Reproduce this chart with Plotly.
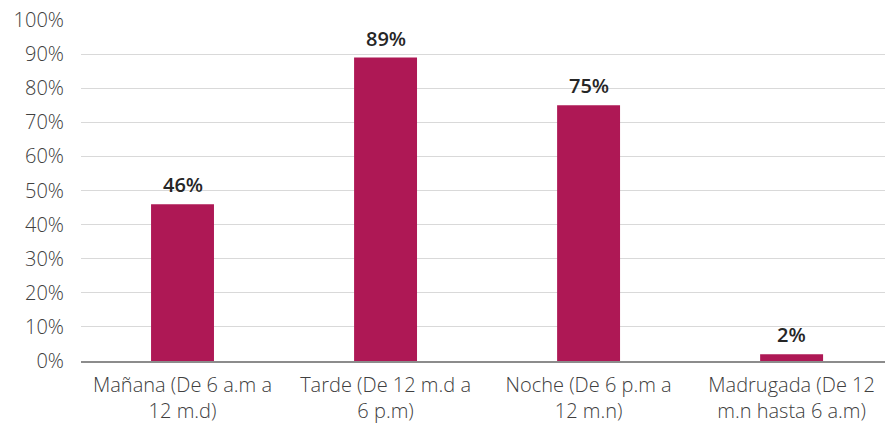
import plotly.graph_objects as go

# Franja horaria y porcentaje de respuestas
categorias = [
    "Mañana (De 6 a.m a<br>12 m.d)",
    "Tarde (De 12 m.d a<br>6 p.m)",
    "Noche (De 6 p.m a<br>12 m.n)",
    "Madrugada (De 12<br>m.n hasta 6 a.m)",
]
valores = [46, 89, 75, 2]
ticks_y = [0, 10, 20, 30, 40, 50, 60, 70, 80, 90, 100]
etiquetas_y = [f"{v}%" for v in ticks_y]

fig = go.Figure(
    go.Bar(
        x=categorias,
        y=valores,
        width=0.31,
        marker=dict(color="#AE1855", line=dict(width=0)),
        cliponaxis=False,
    )
)

# Etiquetas de valor sobre cada barra
for c, v in zip(categorias, valores):
    fig.add_annotation(
        x=c, y=v, text=f"{v}%", showarrow=False,
        yanchor="bottom", yshift=4,
        font=dict(family="Open Sans", size=20, color="#262626", weight=600),
    )

fig.update_layout(
    width=885,
    height=423,
    margin=dict(l=81, r=0, t=20, b=62),
    plot_bgcolor="white",
    paper_bgcolor="white",
    showlegend=False,
    font=dict(family="Open Sans", size=20, color="#404040"),
)
fig.update_yaxes(
    range=[0, 100],
    tickvals=ticks_y,
    ticktext=etiquetas_y,
    showgrid=True,
    gridcolor="#D9D9D9",
    gridwidth=1,
    zeroline=False,
    ticks="",
    ticklen=0,
    ticklabelstandoff=16,
    tickfont=dict(size=20, color="#404040", weight=300),
)
fig.update_xaxes(
    range=[-0.5, 3.46],
    showline=True,
    linecolor="#8C8C8C",
    linewidth=2,
    ticks="",
    ticklabelstandoff=5,
    tickfont=dict(size=20, color="#404040", weight=300),
)

fig.write_html("out.html")
